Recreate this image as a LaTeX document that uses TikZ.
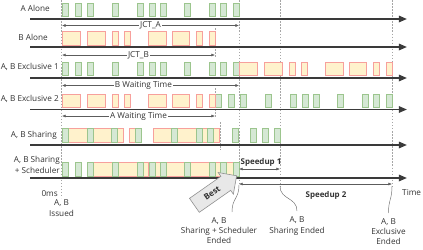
\documentclass[tikz,border=0pt]{standalone}
\usepackage{fontspec}
\setmainfont{Open Sans}
\setsansfont{Open Sans}
\usepackage{tikz}
\usetikzlibrary{arrows.meta, shapes.arrows, calc}
\definecolor{sink}{HTML}{333333}
\definecolor{saxis}{HTML}{3A3A3A}
\definecolor{sdash}{HTML}{A6A6A6}
\definecolor{sgreen}{HTML}{9CC58E}
\definecolor{greensoft}{HTML}{D5E8D4}
\definecolor{sred}{HTML}{F7A09C}
\definecolor{yellowsoft}{HTML}{FFF2CC}
\definecolor{bestsoft}{HTML}{E8E8E8}
\tikzset{
  >=Latex,
  font=\fontsize{7}{8.9}\selectfont\sffamily,
  ablock/.style={draw=sgreen, fill=greensoft, line width=0.6pt},
  bblock/.style={draw=sred, fill=yellowsoft, line width=0.6pt},
  timeline/.style={draw=saxis, line width=1.5pt, -{Triangle[length=7pt,width=5.5pt]}},
  dimline/.style={draw=sink!80, line width=0.4pt,
    {Latex[length=3pt,width=2.4pt]}-{Latex[length=3pt,width=2.4pt]}},
  eventline/.style={draw=sdash, line width=0.6pt, dash pattern=on 1.3pt off 1.3pt},
  rowlab/.style={anchor=east, text=sink, inner sep=0pt, align=right},
  dimlab/.style={fill=white, inner sep=1.2pt, text=sink},
  endlab/.style={align=center, text=sink, inner sep=0pt},
  leader/.style={draw=sink!70, line width=0.4pt},
  bestarrow/.style={single arrow, draw=sink!55, fill=bestsoft, line width=0.5pt,
    single arrow head extend=4pt, inner xsep=3pt, inner ysep=4.5pt,
    minimum height=44pt, font=\fontsize{7}{8}\selectfont\sffamily\bfseries, text=sink}
}

\begin{document}
\begin{tikzpicture}[x=0.03cm, y=-0.03cm]
  \useasboundingbox (0,0) rectangle (423,249);

  % event lines
  \coordinate (T0a) at (61,0);   \coordinate (T0b) at (61,198);
  \coordinate (TSa) at (239,0);  \coordinate (TSb) at (239,185);
  \coordinate (THa) at (280,0);  \coordinate (THb) at (280,186);
  \coordinate (TXa) at (392,0);  \coordinate (TXb) at (392,186);
  \coordinate (TB1a) at (215,28); \coordinate (TB1b) at (215,57);
  \coordinate (TB2a) at (215,88); \coordinate (TB2b) at (215,118);
  \coordinate (TB3a) at (220,122); \coordinate (TB3b) at (220,150);
  \draw[eventline] (T0a) -- (T0b);
  \draw[eventline] (TSa) -- (TSb);
  \draw[eventline] (THa) -- (THb);
  \draw[eventline] (TXa) -- (TXb);
  \draw[eventline] (TB1a) -- (TB1b);
  \draw[eventline] (TB2a) -- (TB2b);
  \draw[eventline] (TB3a) -- (TB3b);

  % time axes
  \foreach \r/\y in {1/19,2/47,3/78,4/109.5,5/145,6/178}{
    \coordinate (ax\r s) at (30,\y);
    \coordinate (ax\r e) at (407,\y);
    \draw[timeline] (ax\r s) -- (ax\r e);
  }

  % A alone / B alone
  \foreach \x in {62,75,87,112,137,149,160,184,209,220,233}
    \draw[ablock] (\x,3) rectangle ++(6,13.5);
  \foreach \x/\w in {62/18,87/18,112/6,124/6,148/18,172/17.5,196/6,209/6}
    \draw[bblock] (\x,31.5) rectangle ++(\w,13.5);

  % exclusive 1 and 2
  \foreach \x in {62,75,87,112,137,149,160,184,209,220,233}{
    \draw[ablock] (\x,62) rectangle ++(6,13.5);
    \draw[ablock] ({\x+153},94) rectangle ++(6,13.5);
  }
  \foreach \x/\w in {62/18,87/18,112/6,124/6,148/18,172/17.5,196/6,209/6}{
    \draw[bblock] ({\x+177},62) rectangle ++(\w,13.5);
    \draw[bblock] (\x,94) rectangle ++(\w,13.5);
  }

  % sharing
  \foreach \x/\w in {68.5/18.5,93/18.5,117.5/6,129.7/6,153.3/18,177.3/18.7,201.7/5.6,213.3/6}
    \draw[bblock] (\x,128) rectangle ++(\w,14);
  \foreach \x in {62,87,111.5,135.7,171.3,196,207.3,232,250.7,262.3,274}
    \draw[ablock] (\x,128) rectangle ++(6,14);

  % sharing + scheduler
  \foreach \x/\w in {93/19,118/19,142.7/6,154.5/5.5,166/18,190/19,214.7/5.3,226/7}
    \draw[bblock] (\x,162.5) rectangle ++(\w,14);
  \foreach \x in {62,75,87,112,137,149,160,184,209,220,233}
    \draw[ablock] (\x,162.5) rectangle ++(6,14);

  % row labels
  \node[rowlab] (LA) at (50,8.5) {A Alone};
  \node[rowlab] (LB) at (48,37) {B Alone};
  \node[rowlab] (LE1) at (59,67) {A, B Exclusive 1};
  \node[rowlab] (LE2) at (59,98.5) {A, B Exclusive 2};
  \node[rowlab] (LS) at (57,135) {A, B Sharing};
  \node[rowlab] (LSS) at (60,165) {A, B Sharing\\+ Scheduler};

  % measures
  \coordinate (JAl) at (62,25.5);  \coordinate (JAr) at (239,25.5);
  \coordinate (JBl) at (62,55);    \coordinate (JBr) at (215,55);
  \coordinate (WBl) at (62,85.5);  \coordinate (WBr) at (239,85.5);
  \coordinate (WAl) at (62,116);   \coordinate (WAr) at (215,116);
  \draw[dimline] (JAl) -- node[dimlab] (JA) {JCT\_A} (JAr);
  \draw[dimline] (JBl) -- node[dimlab] (JB) {JCT\_B} (JBr);
  \draw[dimline] (WBl) -- node[dimlab, pos=0.46] (WB) {B Waiting Time} (WBr);
  \draw[dimline] (WAl) -- node[dimlab] (WA) {A Waiting Time} (WAr);

  \coordinate (S1l) at (239,169);  \coordinate (S1r) at (280,169);
  \coordinate (S2l) at (239,184);  \coordinate (S2r) at (392,184);
  \draw[dimline] (S1l) -- (S1r);
  \draw[dimline] (S2l) -- (S2r);
  \node[endlab, font=\fontsize{6.8}{8}\selectfont\sffamily\bfseries] (SP1) at (261,162.5) {Speedup 1};
  \node[endlab, font=\fontsize{6.8}{8}\selectfont\sffamily\bfseries] (SP2) at (326,195) {Speedup 2};

  % bottom texts
  \node[rowlab] (Z) at (58,194) {0ms};
  \node[endlab] (IS) at (61.5,208) {A, B\\Issued};
  \node[endlab, anchor=north] (ES) at (219,217) {A, B\\Sharing + Scheduler\\Ended};
  \node[endlab, anchor=north] (EH) at (297,216.5) {A, B\\Sharing Ended};
  \node[endlab, anchor=north] (EX) at (388.5,218) {A, B\\Exclusive\\Ended};
  \node[endlab, anchor=west] (TM) at (402,193) {Time};

  % leaders
  \coordinate (E1) at (232,212);
  \coordinate (E2) at (297,211);
  \coordinate (E3) at (388.5,213);
  \draw[leader] (TSb) .. controls (239,199) and (232,198) .. (E1);
  \draw[leader] (THb) .. controls (280,200) and (297,197) .. (E2);
  \draw[leader] (TXb) .. controls (392,200) and (388.5,199) .. (E3);

  \node[bestarrow, rotate=35] (BEST) at (212,193) {Best};
\end{tikzpicture}
\end{document}
